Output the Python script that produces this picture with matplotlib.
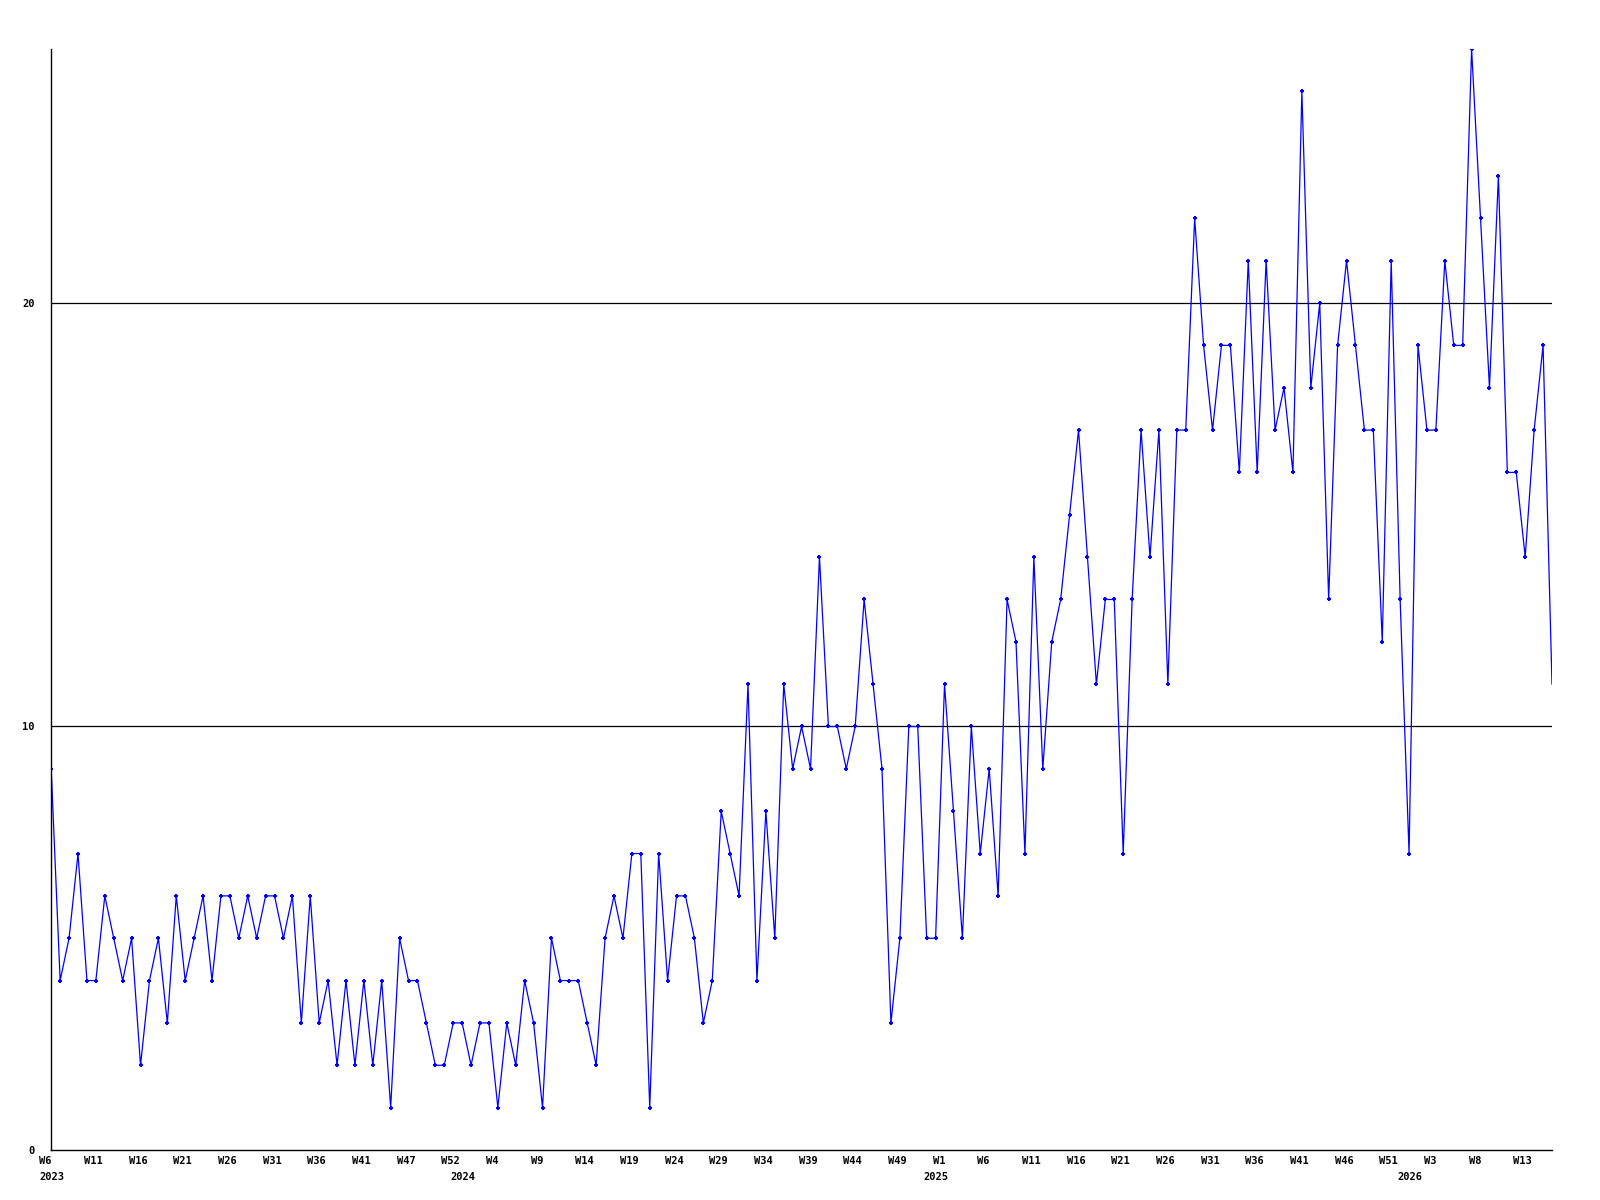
#!/usr/bin/env python3

import numpy as np
import matplotlib.pyplot as plt
from matplotlib.transforms import ScaledTranslation

values = [9, 4, 5, 7, 4, 4, 6, 5, 4, 5, 2, 4, 5, 3, 6, 4, 5, 6, 4, 6,
          6, 5, 6, 5, 6, 6, 5, 6, 3, 6, 3,
          4, 2, 4, 2, 4, 2, 4, 1, 5, 4, 4, 3, 2, 2, 3, 3, 2, 3, 3,
          1, 3, 2, 4, 3, 1, 5, 4, 4, 4,
          3, 2, 5, 6, 5, 7, 7, 1, 7, 4, 6, 6, 5, 3, 4, 8, 7, 6, 11, 4,
          8, 5, 11, 9, 10, 9, 14, 10, 10,
          9, 10, 13, 11, 9, 3, 5, 10, 10, 5, 5, 11, 8, 5, 10, 7, 9, 6, 13, 12,
          7, 14, 9, 12, 13, 15, 17, 14, 11,
          13, 13, 7, 13, 17, 14, 17, 11, 17, 17, 22, 19, 17, 19, 19, 16, 21, 16,
          21, 17, 18, 16, 25, 18, 20, 13, 19, 21, 19, 17, 17, 12, 21, 13, 7, 19,
          17, 17, 21, 19, 19, 26, 22, 18, 23, 16, 16, 14, 17, 19, 11]

week_labels = ['W6', 'W11', 'W16', 'W21', 'W26', 'W31', 'W36', 'W41', 'W47',
               'W52', 'W4', 'W9', 'W14', 'W19', 'W24', 'W29', 'W34', 'W39',
               'W44', 'W49', 'W1', 'W6', 'W11', 'W16', 'W21', 'W26', 'W31',
               'W36', 'W41', 'W46', 'W51', 'W3', 'W8', 'W13']
week_label_pos = list(range(0, 166, 5))

years = ['2023', '2024', '2025', '2026']
year_pos = [0, 46, 99, 152]

y_ticks = [0, 10, 20]

fnt = dict(family='DejaVu Sans Mono', weight='bold', size=7.5)

fig = plt.figure(figsize=(16, 12), dpi=100)
ax = fig.add_axes([0.032, 0.0417, 0.938, 0.9175])

x = np.arange(len(values))
ax.plot(x, values, color='#0000ff', lw=0.9, marker='+', ms=3.5, mew=1.5,
        markevery=list(range(len(values) - 1)))

ax.set_xlim(0, len(values) - 1)
ax.set_ylim(0, 26)

for s in ['top', 'right']:
    ax.spines[s].set_visible(False)
for s in ['left', 'bottom']:
    ax.spines[s].set_linewidth(1.0)
    ax.spines[s].set_color('black')

for yv in y_ticks[1:]:
    ax.axhline(yv, color='black', lw=0.9, zorder=0)

ax.set_yticks(y_ticks)
ax.set_yticklabels([str(v) for v in y_ticks], **fnt)
ax.tick_params(axis='y', length=0, pad=12)

ax.set_xticks(week_label_pos)
ax.set_xticklabels(week_labels, **fnt)
ax.tick_params(axis='x', length=0, pad=4)
shift = ScaledTranslation(-12 / 100, 0, fig.dpi_scale_trans)
for lab in ax.get_xticklabels():
    lab.set_horizontalalignment('left')
    lab.set_transform(lab.get_transform() + shift)

ytrans = ax.get_xaxis_transform() + ScaledTranslation(-12 / 100, -27 / 100, fig.dpi_scale_trans)
for yr, p in zip(years, year_pos):
    ax.text(p, 0, yr, transform=ytrans, ha='left', va='center', **fnt)

fig.savefig('out.png')
